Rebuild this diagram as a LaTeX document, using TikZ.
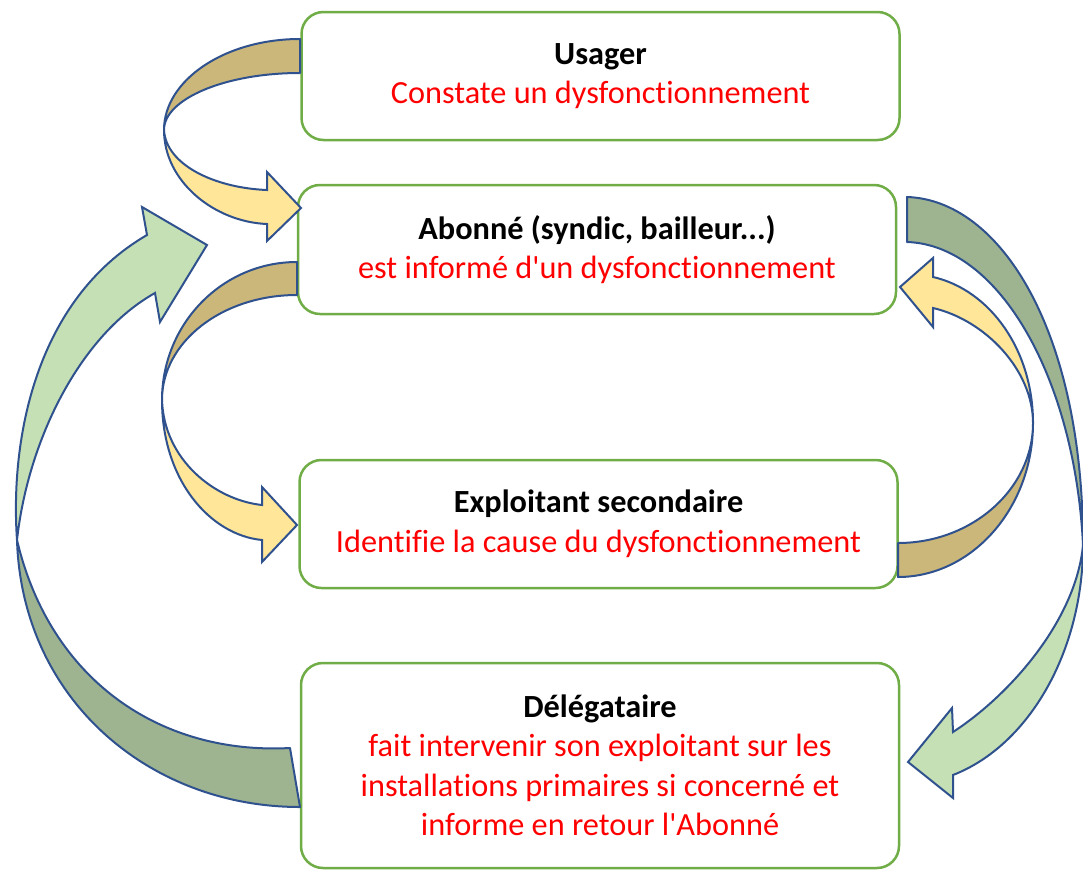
\documentclass[tikz,border=0pt]{standalone}
\usepackage{fontspec}
\setmainfont{Carlito}[Ligatures=NoCommon]
\usepackage{tikz}
\definecolor{boxgreen}{HTML}{70AD47}
\definecolor{arrowblue}{HTML}{2F528F}
\definecolor{tanback}{HTML}{CBB77A}
\definecolor{yellowfront}{HTML}{FFE699}
\definecolor{greenback}{HTML}{9EB390}
\definecolor{greenfront}{HTML}{C5E0B4}
\definecolor{taskred}{HTML}{FF0000}
\tikzset{
every node/.style={font=\fontsize{32.3}{39.5}\selectfont}
, rolebox/.style={draw=boxgreen, line width=2.5pt, fill=white, rounded corners=22pt, minimum width=598pt, align=center}
, backband/.style={draw=arrowblue, line width=2pt, line join=round}
, frontband/.style={draw=arrowblue, line width=2pt, line join=miter}}
\def\role#1{\textbf{#1}}
\def\task{\color{taskred}}
\def\apos{\XeTeXglyph\the\XeTeXcharglyph"0027\relax}

\begin{document}
\begin{tikzpicture}[x=1pt,y=-1pt]
\useasboundingbox (0,0) rectangle (1083,870);
\node[rolebox, minimum height=128pt] (usager) at (600.5,76) {\role{Usager}\\\task Constate un dysfonctionnement};
\node[rolebox, minimum height=129pt] (abonne) at (597,249.5) {\role{Abonné (syndic, bailleur...)}\\\task est informé d\apos un dysfonctionnement};
\node[rolebox, minimum height=128pt] (exploitant) at (598.5,524) {\role{Exploitant secondaire}\\\task Identifie la cause du dysfonctionnement};
\node[rolebox, minimum height=205pt] (delegataire) at (600,765.5) {\role{Délégataire}\\\task fait intervenir son exploitant sur les\\\task installations primaires si concerné et\\\task informe en retour l\apos Abonné};
% usager -> abonne
\draw[backband, fill=tanback] (300,39) .. controls (225,39) and (164,80) .. (164,130) .. controls (164,99) and (225,73) .. (300,73) -- cycle;
\draw[frontband, fill=yellowfront] (164,130) .. controls (164,182) and (215,222) .. (267,224) -- (267,241) -- (301,208) -- (267,172) -- (267,190) .. controls (215,188) and (166,165) .. (164,130) -- cycle;
% abonne -> exploitant
\draw[backband, fill=tanback] (297,262) .. controls (222,262) and (162,324) .. (162,400) .. controls (162,342) and (222,295) .. (297,295) -- cycle;
\draw[frontband, fill=yellowfront] (162,400) .. controls (162,480) and (210,535) .. (262,540) -- (262,562) -- (297,525) -- (262,487) -- (262,505) .. controls (215,500) and (164,460) .. (162,400) -- cycle;
% exploitant -> abonne
\draw[backband, fill=tanback] (898,577) .. controls (972,577) and (1033,508) .. (1033,423) .. controls (1033,489) and (972,543) .. (898,543) -- cycle;
\draw[frontband, fill=yellowfront] (1033,423) .. controls (1033,350) and (990,290) .. (933,277) -- (933,258) -- (900,287) -- (933,327) -- (933,308) .. controls (985,320) and (1033,370) .. (1033,423) -- cycle;
% abonne -> delegataire
\draw[backband, fill=greenback] (907,197) .. controls (1000,200) and (1083,330) .. (1083,545) .. controls (1075,380) and (1000,245) .. (907,242) -- cycle;
\draw[frontband, fill=greenfront] (1083,545) .. controls (1083,650) and (1030,745) .. (953,775) -- (953,798) -- (908,762) -- (952,708) -- (953,732) .. controls (1010,695) and (1076,620) .. (1083,545) -- cycle;
% delegataire -> abonne
\draw[backband, fill=greenback] (17,540) .. controls (22,700) and (150,807) .. (300,807) -- (290,748) .. controls (160,755) and (50,680) .. (17,540) -- cycle;
\draw[frontband, fill=greenfront] (17,540) .. controls (10,440) and (35,300) .. (147,235) -- (142,207) -- (207,245) -- (160,322) -- (155,293) .. controls (80,335) and (28,440) .. (17,540) -- cycle;
\end{tikzpicture}
\end{document}
